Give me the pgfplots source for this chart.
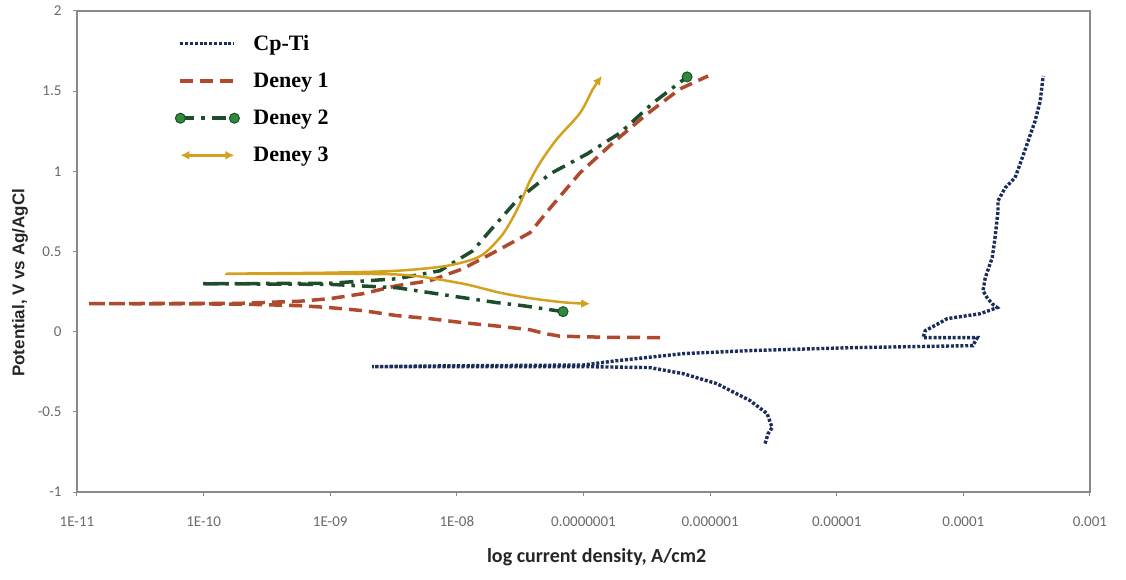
\documentclass[border=0pt]{standalone}
\usepackage{pgfplots}
\pgfplotsset{compat=1.18}
\usepackage{fontspec}
\setmainfont{Carlito}
\newfontfamily\carlito{Carlito}
\newfontfamily\ylabfont{Liberation Sans}
\newfontfamily\legfont{Liberation Serif}
\usetikzlibrary{arrows.meta}
\definecolor{cpti}{HTML}{1B2E5A}
\definecolor{deneyA}{HTML}{B04A2F}
\definecolor{deneyB}{HTML}{1E4D2B}
\definecolor{deneyBm}{HTML}{2E8B3A}
\definecolor{deneyC}{HTML}{D4A11E}
\definecolor{axgray}{HTML}{8A8A8A}
\definecolor{tickgray}{HTML}{6A6A6A}
\begin{document}
\begin{tikzpicture}[x=1pt,y=1pt]
\useasboundingbox (0,0) rectangle (1126,579);
\begin{axis}[
  at={(77pt,87pt)}, anchor=south west,
  width=1013pt, height=481pt, scale only axis,
  xmode=log, log basis x=10,
  xmin=1e-11, xmax=1e-3, ymin=-1, ymax=2,
  xtick={1e-11,1e-10,1e-9,1e-8,1e-7,1e-6,1e-5,1e-4,1e-3},
  xticklabels={1E-11,1E-10,1E-09,1E-08,0.0000001,0.000001,0.00001,0.0001,0.001},
  minor xtick={},
  ytick={-1,-0.5,0,0.5,1,1.5,2},
  yticklabels={-1,-0.5,0,0.5,1,1.5,2},
  ticklabel style={font=\carlito\fontsize{15}{15}\selectfont, text=tickgray},
  xticklabel style={yshift=-17pt},
  yticklabel style={xshift=-8pt},
  axis line style={draw=axgray, line width=1.3pt},
  tick style={draw=axgray, line width=1pt},
  major tick length=4pt, tick align=outside,
  xtick pos=left, ytick pos=left,
  xlabel={log current density, A/cm2},
  ylabel={Potential, V vs Ag/AgCl},
  xlabel style={font=\carlito\bfseries\fontsize{20}{20}\selectfont, text=black!85,
    at={(axis description cs:0.513,-0.135)}, anchor=center},
  ylabel style={font=\ylabfont\bfseries\fontsize{17}{17}\selectfont, text=black!85,
    at={(axis description cs:-0.0563,0.435)}, anchor=center},
  clip=false,
  legend cell align=left,
  legend style={at={(rel axis cs:0.094,0.958)}, anchor=north west, draw=none, fill=none,
    font=\legfont\bfseries\fontsize{22}{22}\selectfont, row sep=17pt,
    /tikz/every odd column/.append style={column sep=12pt}},
  legend image code/.code={\draw[#1, mark indices={1,3}] plot coordinates {(0pt,0pt) (27pt,0pt) (54pt,0pt)};},
]
% Cp-Ti
\addplot[cpti, line width=3.4pt, dash pattern=on 3pt off 1.8pt] coordinates {
(2.72e-6,-0.698) (2.87e-6,-0.636) (3.09e-6,-0.598) (2.82e-6,-0.511) (2.07e-6,-0.430)
(1.13e-6,-0.324) (6.12e-7,-0.262) (3.36e-7,-0.224) (9.93e-8,-0.218) (8.8e-9,-0.218)
(2.14e-9,-0.218) (8.8e-9,-0.213) (9.93e-8,-0.208) (1.84e-7,-0.181) (6.12e-7,-0.137)
(2.07e-6,-0.118) (1.28e-5,-0.100) (1.19e-4,-0.087) (1.29e-4,-0.037) (4.81e-5,-0.037)
(5.0e-5,0.006) (6.56e-5,0.056) (7.45e-5,0.081) (1.36e-4,0.112) (1.85e-4,0.150)
(1.69e-4,0.174) (1.54e-4,0.212) (1.43e-4,0.255) (1.49e-4,0.336) (1.69e-4,0.461)
(1.78e-4,0.586) (1.88e-4,0.754) (1.88e-4,0.816) (2.14e-4,0.897) (2.56e-4,0.960)
(2.81e-4,1.047) (3.19e-4,1.171) (3.69e-4,1.315) (4.05e-4,1.439) (4.27e-4,1.595)
};
\addlegendentry{Cp-Ti}
% Deney 1
\addplot[deneyA, line width=3.5pt, dash pattern=on 13pt off 7pt] coordinates {
(4.03e-7,-0.037) (1.5e-7,-0.035) (6.5e-8,-0.028) (4.98e-8,-0.012) (3.78e-8,0.012)
(2.08e-8,0.035) (1.12e-8,0.056) (6.14e-9,0.081) (3.37e-9,0.100) (1.82e-9,0.131)
(9.96e-10,0.150) (5.77e-10,0.162) (2.0e-10,0.172) (1.2e-11,0.175) (2.0e-10,0.177)
(5.77e-10,0.190) (9.96e-10,0.206) (1.82e-9,0.237) (3.37e-9,0.287) (6.14e-9,0.318)
(1.12e-8,0.393) (2.08e-8,0.505) (3.78e-8,0.617) (5.44e-8,0.770) (9.4e-8,0.991)
(1.71e-7,1.178) (3.18e-7,1.358) (5.79e-7,1.514) (9.64e-7,1.595)
};
\addlegendentry{Deney 1}
% Deney 2
\addplot[deneyB, line width=3.5pt, dash pattern=on 14pt off 7pt on 3.5pt off 7pt,
  mark=*, mark size=5pt, mark indices={1,19},
  mark options={solid, fill=deneyBm, draw=deneyB, line width=1pt}] coordinates {
(6.9e-8,0.125) (3.33e-8,0.162) (2.08e-8,0.181) (1.12e-8,0.212) (6.14e-9,0.243)
(3.37e-9,0.274) (1.0e-9,0.295) (9.4e-11,0.299) (1.0e-9,0.302) (3.37e-9,0.330)
(7.36e-9,0.380) (1.34e-8,0.505) (1.83e-8,0.630) (2.99e-8,0.820) (5.44e-8,0.984)
(1.07e-7,1.109) (1.95e-7,1.240) (3.55e-7,1.427) (6.58e-7,1.589)
};
\addlegendentry{Deney 2}
% Deney 3
\addplot[deneyC, line width=2.5pt, smooth, tension=0.5,
  arrows={Latex[length=9pt,width=9pt]-Latex[length=9pt,width=9pt]}] coordinates {
(1.13e-7,0.174) (7.41e-8,0.181) (4.0e-8,0.206) (2.19e-8,0.243) (1.12e-8,0.299)
(4.51e-9,0.349) (2.0e-9,0.360) (1.53e-10,0.361) (1.0e-9,0.368) (3.37e-9,0.380)
(8.37e-9,0.411) (1.52e-8,0.470) (2.19e-8,0.586) (2.63e-8,0.679) (3.15e-8,0.798)
(3.78e-8,0.941) (4.6e-8,1.060) (6.18e-8,1.202) (9.4e-8,1.364) (1.19e-7,1.514)
(1.40e-7,1.595)
};
\addlegendentry{Deney 3}
\end{axis}
\end{tikzpicture}
\end{document}
